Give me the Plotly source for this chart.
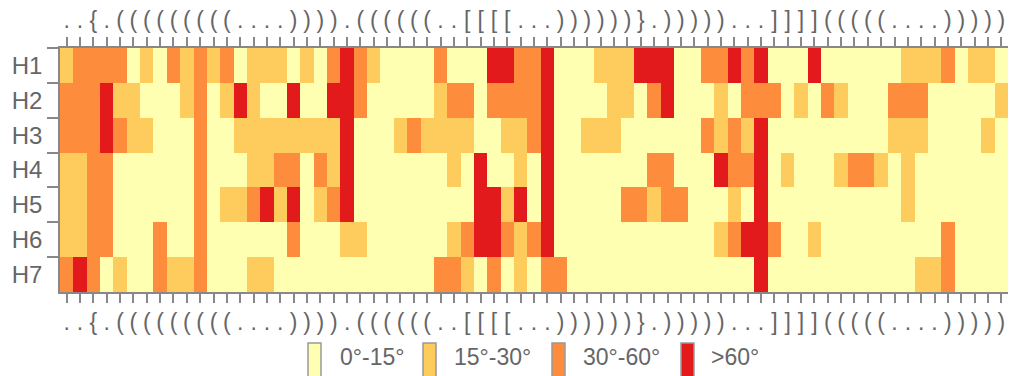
import plotly.graph_objects as go

structure = list("..{.(((((((((....)))).((((((..[[[[...))))))}.)))))...]]]](((((....)))))")
rows = ["H1", "H2", "H3", "H4", "H5", "H6", "H7"]

H1 = [1,2,2,2,2,0,1,0,2,1, 2,1,2,0,1,1,1,0,1,0, 2,3,2,1,0,0,0,0,2,0, 0,0,3,3,2,2,3,0,0,0, 1,1,1,3,3,3,0,0,2,2, 3,2,3,0,0,0,3,0,0,0, 0,0,0,1,1,1,2,0,1,1, 0]
H2 = [2,2,2,3,1,1,0,0,0,1, 2,0,1,3,1,0,0,3,0,0, 3,3,2,0,0,0,0,0,1,2, 2,0,2,2,2,2,3,0,0,0, 0,1,1,0,2,3,0,0,0,1, 0,2,2,2,0,1,0,2,1,0, 0,0,2,2,2,0,0,0,0,0, 1]
H3 = [2,2,2,3,2,1,1,0,0,0, 2,0,0,1,1,1,1,1,1,1, 1,3,0,0,0,1,2,1,1,1, 1,0,0,1,1,2,3,0,0,1, 1,1,0,0,0,0,0,0,2,1, 2,1,3,0,0,0,0,0,0,0, 0,0,1,1,1,0,0,0,0,1, 0]
H4 = [1,1,2,2,0,0,0,0,0,0, 2,0,0,0,1,1,2,2,0,2, 1,3,0,0,0,0,0,0,0,1, 0,3,0,0,1,0,3,0,0,0, 0,0,0,0,2,2,0,0,0,3, 2,2,3,0,1,0,0,0,1,2, 2,1,0,1,0,0,0,0,0,0, 0]
H5 = [1,1,2,2,0,0,0,0,0,0, 2,0,1,1,2,3,1,3,0,1, 2,3,0,0,0,0,0,0,0,0, 0,3,3,1,3,0,3,0,0,0, 0,0,2,2,1,2,2,0,0,0, 1,0,3,0,0,0,0,0,0,0, 0,0,0,1,0,0,0,0,0,0, 0]
H6 = [1,1,2,2,0,0,0,2,0,0, 2,0,0,0,0,0,0,2,0,0, 0,1,1,0,0,0,0,0,0,1, 2,3,3,2,1,2,3,0,0,0, 0,0,0,0,0,0,0,0,0,1, 2,3,3,2,0,0,1,0,0,0, 0,0,0,0,0,0,2,0,0,0, 0]
H7 = [2,3,2,0,1,0,0,2,1,1, 2,0,0,0,1,1,0,0,0,0, 0,0,0,0,0,0,0,0,2,2, 1,0,2,0,1,0,2,2,0,0, 0,0,0,0,0,0,0,0,0,0, 0,0,3,0,0,0,0,0,0,0, 0,0,0,0,1,1,2,0,0,0, 0]

bins = ["0°-15°", "15°-30°", "30°-60°", ">60°"]
colors = ["#ffffb2", "#fecc5c", "#fd8d3c", "#e31a1c"]

z = [H1, H2, H3, H4, H5, H6, H7]
n = len(structure)
xs = list(range(n))

cs = []
for i, c in enumerate(colors):
    cs.append([i / len(colors), c])
    cs.append([(i + 1) / len(colors), c])

GRAY = "#666666"
AX = "#888888"
FONT = "Liberation Sans, Arial, sans-serif"

fig = go.Figure()
fig.add_trace(go.Heatmap(z=z, x=xs, y=rows, colorscale=cs, zmin=-0.5, zmax=3.5,
                         showscale=False, xgap=0, ygap=0))
fig.add_trace(go.Scatter(x=[xs[0], xs[-1]], y=[rows[0], rows[0]], xaxis="x2", yaxis="y",
                         mode="markers", marker=dict(opacity=0), hoverinfo="skip", showlegend=False))

axis_common = dict(tickmode="array", tickvals=xs, ticktext=structure, ticks="outside",
                   ticklen=9, tickwidth=1.5, tickcolor=AX, showline=True, linecolor=AX,
                   linewidth=1.5, showgrid=False, zeroline=False, range=[-0.5, n - 0.5],
                   automargin=False, tickangle=0,
                   tickfont=dict(family=FONT, size=23, color=GRAY))
fig.update_layout(
    width=1000, height=368,
    margin=dict(l=52, r=0, t=40, b=84, autoexpand=False),
    paper_bgcolor="white", plot_bgcolor="white",
    showlegend=False,
    xaxis=dict(side="bottom", **axis_common),
    xaxis2=dict(side="top", overlaying="x", **axis_common),
    yaxis=dict(autorange="reversed", type="category", tickson="boundaries", ticks="outside",
               ticklen=11, tickwidth=1.5, tickcolor=AX, showline=True, linecolor=AX,
               linewidth=1.5, showgrid=False, zeroline=False, automargin=False,
               ticklabelstandoff=11,
               tickfont=dict(family=FONT, size=24, color=GRAY)),
)

# legend drawn as shapes + text (positions relative to the plot area)
plot_l, plot_w = 60, 948
plot_b, plot_h = 292, 244
def px(x):
    return (x - plot_l) / plot_w
def py(y):
    return (plot_b - y) / plot_h

box_x = [308, 423, 552, 681]
text_x = [338, 452, 581, 709]
for bx, tx, lab, col in zip(box_x, text_x, bins, colors):
    fig.add_shape(type="rect", xref="paper", yref="paper",
                  x0=px(bx), x1=px(bx + 13), y0=py(343), y1=py(380),
                  fillcolor=col, line=dict(color="#999999", width=1.5), layer="above")
    fig.add_annotation(xref="paper", yref="paper", x=px(tx), y=py(357), text=lab,
                       showarrow=False, xanchor="left", yanchor="middle",
                       font=dict(family=FONT, size=23, color=GRAY))

fig.write_html("out.html")
